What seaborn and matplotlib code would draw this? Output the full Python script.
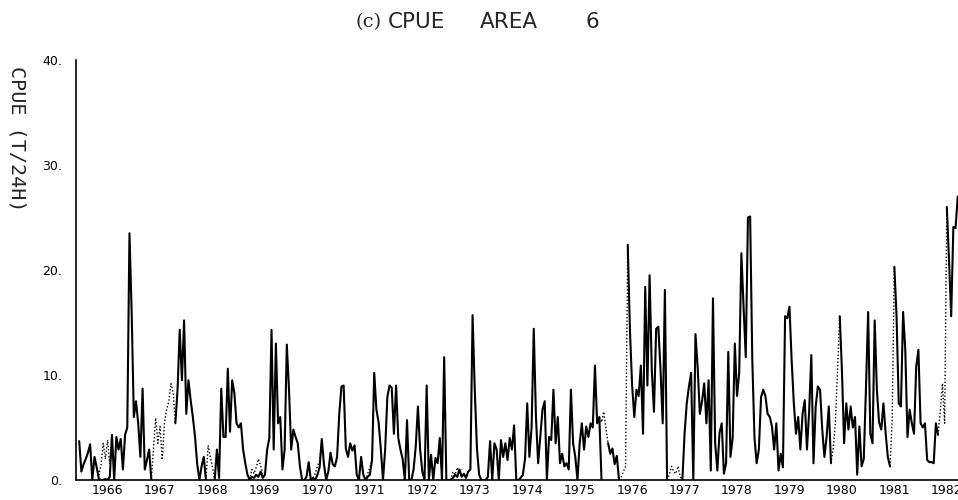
import numpy as np
import pandas as pd
import matplotlib
matplotlib.use("Agg")
import matplotlib.pyplot as plt
import seaborn as sns

nan = np.nan

# Half-monthly CPUE series, first sample at 1965.96
START_YEAR = 1965.96
STEP = 1.0 / 24.0

cpue_1966 = [3.7, 0.8, 1.5, 2.0, 2.6, 3.4, 0.0, 2.2, 1.2, 0.1, 0.0, 0.0,
             0.1, 0.0, 0.3, 4.3, 0.0, 4.1, 2.9, 3.9, 1.0, 4.3, 5.0, 23.5]
cpue_1967 = [16.0, 6.0, 7.5, 5.4, 2.2, 8.7, 1.0, 1.9, 2.9, 0.0, nan, nan,
             nan, nan, nan, nan, nan, nan, nan, nan, 5.4, 8.6, 14.3, 9.5]
cpue_1968 = [15.2, 6.3, 9.5, 7.6, 6.0, 4.1, 1.5, 0.0, 1.3, 2.2, 0.0, nan,
             nan, nan, 0.0, 2.9, 0.2, 8.7, 4.1, 4.1, 10.6, 4.6, 9.5, 8.3]
cpue_1969 = [5.4, 5.0, 5.4, 2.9, 1.6, 0.5, 0.0, 0.3, 0.2, 0.5, 0.3, 0.8,
             0.2, 0.5, 2.9, 4.0, 14.3, 2.9, 13.0, 5.4, 6.0, 1.0, 2.9, 12.9]
cpue_1970 = [8.6, 2.9, 4.8, 4.1, 3.5, 1.3, 0.0, 0.0, 0.3, 1.7, 0.0, 0.2,
             0.0, 0.5, 1.2, 3.9, 1.5, 0.0, 0.8, 2.6, 1.5, 1.3, 2.2, 6.3]
cpue_1971 = [8.9, 9.0, 3.0, 2.2, 3.5, 2.8, 3.3, 0.5, 0.0, 2.2, 0.5, 0.0,
             0.3, 0.5, 1.9, 10.2, 6.7, 5.5, 3.0, 0.0, 2.9, 7.9, 9.0, 8.8]
cpue_1972 = [4.4, 9.0, 4.0, 2.9, 2.0, 0.0, 5.7, 0.0, 0.0, 1.0, 3.2, 7.0,
             2.9, 0.8, 0.0, 9.0, 0.0, 2.4, 0.0, 2.1, 1.6, 4.0, 0.0, 11.7]
cpue_1973 = [0.0, 0.0, 0.0, 0.2, 0.5, 0.3, 1.0, 0.3, 0.6, 0.2, 0.8, 1.0,
             15.7, 8.6, 3.0, 0.5, 0.0, 0.0, 0.0, 0.3, 3.7, 0.0, 3.5, 2.9]
cpue_1974 = [0.0, 3.8, 2.2, 3.5, 1.9, 4.0, 2.9, 5.2, 0.0, 0.0, 0.2, 0.5,
             2.0, 7.3, 2.2, 5.0, 14.4, 6.0, 1.6, 4.1, 6.7, 7.5, 0.0, 4.1]
cpue_1975 = [3.8, 8.6, 3.5, 6.0, 1.6, 2.5, 1.3, 1.6, 1.0, 8.6, 3.5, 2.2,
             0.0, 3.5, 5.4, 2.9, 5.1, 4.1, 5.4, 5.0, 10.9, 5.4, 6.0, 0.0]
cpue_1976 = [nan, nan, 3.5, 2.5, 3.0, 1.5, 2.3, 0.0, nan, nan, nan, 22.4,
             14.3, 9.0, 6.0, 8.6, 8.0, 10.9, 4.4, 18.4, 9.0, 19.5, 10.5, 6.5]
cpue_1977 = [14.4, 14.6, 10.5, 5.4, 18.1, 0.0, nan, nan, nan, nan, nan, nan,
             0.0, 4.4, 7.3, 8.9, 10.2, 0.0, 13.9, 10.7, 6.3, 7.5, 9.2, 5.4]
cpue_1978 = [9.5, 0.9, 17.3, 3.5, 0.9, 4.5, 5.4, 0.6, 1.6, 12.2, 2.2, 4.0,
             13.0, 8.0, 10.2, 21.6, 16.5, 11.7, 25.0, 25.1, 11.4, 4.0, 1.6, 2.9]
cpue_1979 = [7.9, 8.6, 8.0, 6.3, 6.0, 5.1, 2.9, 5.4, 0.9, 2.5, 1.2, 15.6,
             15.4, 16.5, 11.4, 7.3, 4.4, 6.0, 2.9, 6.3, 7.6, 2.9, 6.5, 11.9]
cpue_1980 = [1.6, 7.0, 8.9, 8.6, 4.8, 2.2, 4.1, 7.0, 1.6, nan, nan, nan,
             15.6, 10.5, 3.5, 7.3, 4.8, 7.0, 5.0, 6.0, 0.5, 5.1, 1.3, 2.0]
cpue_1981 = [8.7, 16.0, 4.4, 3.5, 15.2, 8.6, 5.5, 4.8, 7.3, 4.5, 2.2, 1.3,
             nan, 20.3, 15.6, 7.3, 7.0, 16.0, 12.4, 4.1, 6.7, 5.4, 4.4, 10.8]
cpue_1982 = [12.4, 5.4, 5.0, 5.4, 1.9, 1.7, 1.7, 1.6, 5.4, 4.3, nan, nan,
             nan, 26.0, 21.0, 15.6, 24.1, 24.0, 27.0]

# Estimated values (dotted) where the observed record is missing or differs;
# each run starts at the given sample index
est_starts = [8, 33, 58, 78, 107, 131, 170, 237, 247, 269, 344, 371, 393]
est_values = [
    [1.2, 0.5, 1.5, 3.5, 2.0, 3.8, 1.5, 4.3],
    [0.0, 3.0, 5.9, 3.5, 5.1, 1.9, 5.4, 6.7, 7.5, 9.2, 8.3, 5.4],
    [0.0, 3.3, 2.2, 1.2, 0.0],
    [0.0, 1.0, 0.6, 1.2, 2.0, 1.4, 0.6, 0.5],
    [0.2, 0.6, 1.3, 1.8, 3.9],
    [0.0, 0.6, 1.2, 1.9],
    [0.0, 0.8, 0.5, 1.2, 0.6, 1.0],
    [5.4, 6.0, 5.5, 6.5, 5.0, 3.5],
    [0.0, 0.3, 0.8, 1.3, 22.4],
    [0.0, 0.5, 1.3, 0.8, 0.6, 1.3, 0.3, 0.0],
    [1.6, 3.0, 5.4, 10.5, 15.6],
    [1.3, 5.7, 20.3],
    [4.3, 6.5, 9.2, 5.4, 26.0],
]

year_labels = ["1966", "1967", "1968", "1969", "1970", "1971", "1972", "1973",
               "1974", "1975", "1976", "1977", "1978", "1979", "1980", "1981",
               "1982"]
y_ticks = [0, 10, 20, 30, 40]
y_tick_labels = ["0.", "10.", "20.", "30.", "40."]

observed = (cpue_1966 + cpue_1967 + cpue_1968 + cpue_1969 + cpue_1970 +
            cpue_1971 + cpue_1972 + cpue_1973 + cpue_1974 + cpue_1975 +
            cpue_1976 + cpue_1977 + cpue_1978 + cpue_1979 + cpue_1980 +
            cpue_1981 + cpue_1982)

obs = pd.DataFrame({"year": START_YEAR + STEP * np.arange(len(observed)),
                    "cpue": observed})
obs["run"] = obs["cpue"].isna().cumsum()
obs = obs.dropna()

rows = []
for run, (s, vals) in enumerate(zip(est_starts, est_values)):
    for j, v in enumerate(vals):
        rows.append((START_YEAR + STEP * (s + j), v, run))
est = pd.DataFrame(rows, columns=["year", "cpue", "run"])

sns.set_style("white")
plt.rcParams["font.family"] = ["DejaVu Sans"]

fig = plt.figure(figsize=(9.58, 5.0), dpi=100)
ax = fig.add_axes([76 / 958, 20 / 500, 882 / 958, 420 / 500])

sns.lineplot(data=est, x="year", y="cpue", units="run", estimator=None,
             sort=False, color="black", lw=1.0, linestyle=(0, (1, 1.5)),
             ax=ax, legend=False)
sns.lineplot(data=obs, x="year", y="cpue", units="run", estimator=None,
             sort=False, color="black", lw=1.5, ax=ax, legend=False)

ax.set_xlabel("")
ax.set_ylabel("")

for side in ("top", "right"):
    ax.spines[side].set_visible(False)
for side in ("left", "bottom"):
    ax.spines[side].set_color("black")
    ax.spines[side].set_linewidth(1.2)

ax.set_xticks([1966.5 + i for i in range(len(year_labels))])
ax.set_xticklabels(year_labels, fontsize=9)
ax.set_xticks(np.arange(1966, 1982.75, 1 / 12), minor=True)
ax.tick_params(axis="x", which="major", length=0, pad=3, colors="black")
ax.tick_params(axis="x", which="minor", direction="in", length=2.5,
               width=0.8, color="black")

ax.set_yticks(y_ticks)
ax.set_yticklabels(y_tick_labels, fontsize=9)
ax.set_yticks(np.arange(0, 41, 2), minor=True)
ax.tick_params(axis="y", which="major", direction="in", length=4,
               width=1.0, pad=10, colors="black")
ax.tick_params(axis="y", which="minor", direction="in", length=2, width=0.8)

# limits last, so the tick setters cannot widen them
ax.set_xlim(1965.899, 1982.715)
ax.set_ylim(0, 40)

fig.text(17 / 958, 1 - 139 / 500, "CPUE (T/24H)", rotation=270,
         ha="center", va="center", fontsize=14.5, family="DejaVu Sans Mono")

# title pieces, spaced out as on a pen plotter
title_y = 1 - 22 / 500
fig.text(369 / 958, title_y, "(c)", ha="center", va="center", fontsize=14,
         family="DejaVu Serif")
fig.text(416 / 958, title_y, "CPUE", ha="center", va="center", fontsize=15.5)
fig.text(509 / 958, title_y, "AREA", ha="center", va="center", fontsize=15.5)
fig.text(592 / 958, title_y, "6", ha="center", va="center", fontsize=15.5)

fig.savefig("out.png", dpi=100)
